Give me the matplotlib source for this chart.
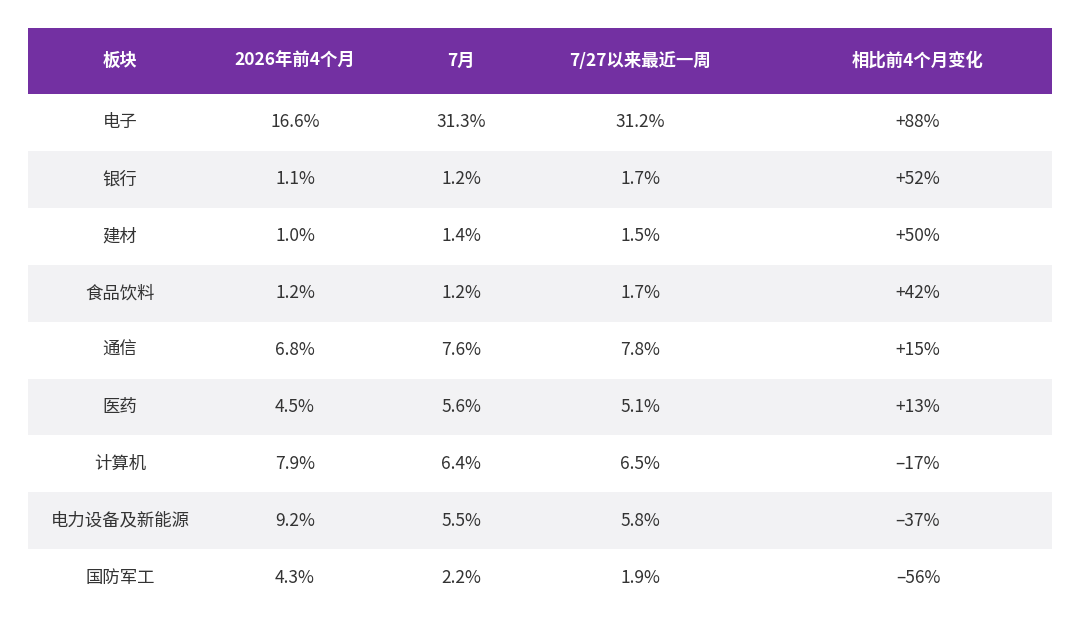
import matplotlib.pyplot as plt
from matplotlib.patches import Rectangle

plt.rcParams['font.family'] = ['Noto Sans CJK SC', 'DejaVu Sans']

headers = ['板块', '2026年前4个月', '7月', '7/27以来最近一周', '相比前4个月变化']
sectors = ['电子', '银行', '建材', '食品饮料', '通信', '医药', '计算机', '电力设备及新能源', '国防军工']
first4 = ['16.6%', '1.1%', '1.0%', '1.2%', '6.8%', '4.5%', '7.9%', '9.2%', '4.3%']
july = ['31.3%', '1.2%', '1.4%', '1.2%', '7.6%', '5.6%', '6.4%', '5.5%', '2.2%']
last_week = ['31.2%', '1.7%', '1.5%', '1.7%', '7.8%', '5.1%', '6.5%', '5.8%', '1.9%']
change = ['+88%', '+52%', '+50%', '+42%', '+15%', '+13%', '–17%', '–37%', '–56%']

W, H = 1080, 633
fig = plt.figure(figsize=(W / 100, H / 100), dpi=100)
ax = fig.add_axes([0, 0, 1, 1])
ax.set_xlim(0, W)
ax.set_ylim(H, 0)
ax.axis('off')

x0, x1 = 28, 1052
top, head_h, row_h = 28, 66, 56.9
col_x = [120, 295, 461, 640, 918]

ax.add_patch(Rectangle((x0, top), x1 - x0, head_h, color='#7330a2', lw=0))
for cx, h in zip(col_x, headers):
    ax.text(cx, top + head_h / 2, h, ha='center', va='center', color='white',
            fontsize=12.5, fontweight='bold')

rows = list(zip(sectors, first4, july, last_week, change))
for i, row in enumerate(rows):
    y = top + head_h + i * row_h
    if i % 2 == 1:
        ax.add_patch(Rectangle((x0, y), x1 - x0, row_h, color='#f2f2f4', lw=0))
    for cx, v in zip(col_x, row):
        ax.text(cx, y + row_h / 2, v, ha='center', va='center', color='#333333',
                fontsize=12.5)

fig.savefig('out.png', dpi=100, facecolor='white')
